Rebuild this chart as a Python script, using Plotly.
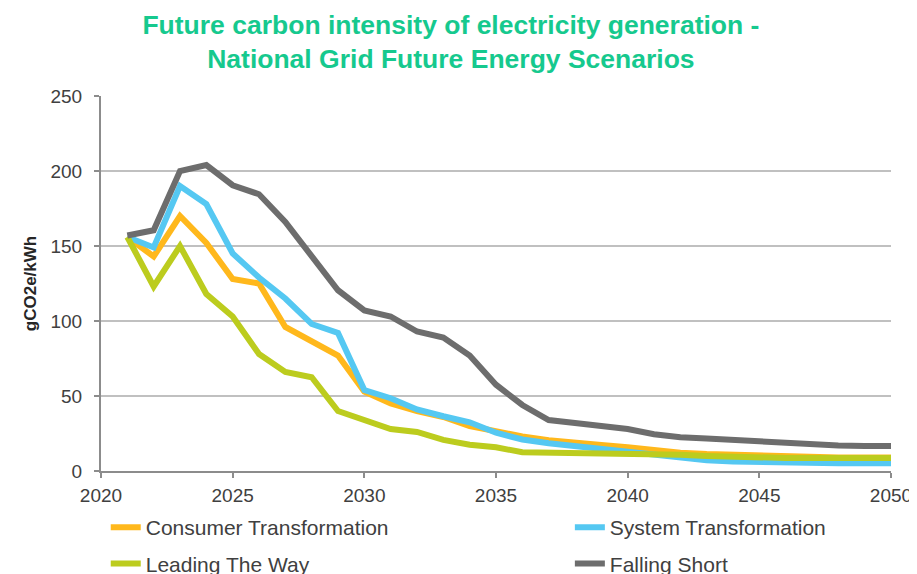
import plotly.graph_objects as go

years = list(range(2021, 2051))

consumer_transformation = [156, 143, 170, 152, 128, 125, 96, 87, 77, 53,
                           45, 40, 36, 30, 26, 23, 20.5, 18.5, 17.3, 15.8,
                           13.6, 12.2, 11.3, 10.7, 10, 9.5, 9.2, 9, 9, 9]
system_transformation = [156, 149, 190, 178, 145, 129, 115, 98, 92, 54,
                         48.5, 41, 36.5, 32.5, 25.5, 21, 18.5, 16.5, 15.3, 13.5,
                         11.5, 9, 7.2, 6.3, 5.8, 5.3, 5.1, 5.1, 5.1, 5.1]
leading_the_way = [156, 123, 150, 118, 103, 78, 66, 62.5, 40, 34.5,
                   28, 26, 20.7, 17.5, 15.8, 12.5, 12.3, 12.2, 11.8, 12,
                   11.5, 10.8, 10, 9.3, 8.9, 8.7, 8.7, 8.7, 8.7, 8.7]
falling_short = [157, 160.5, 200, 204, 190.5, 184.5, 166, 144, 120.5, 107,
                 103, 93, 89, 77, 57.5, 44, 34, 32, 30.5, 28,
                 24.5, 22.5, 21.6, 20.7, 19.8, 18.4, 17.3, 17, 16.7, 16.7]

# name, values, colour, which legend column
series = [
    ("Consumer Transformation", consumer_transformation, "#FFB81C", "legend"),
    ("System Transformation", system_transformation, "#55C8F2", "legend2"),
    ("Leading The Way", leading_the_way, "#BCCC1E", "legend"),
    ("Falling Short", falling_short, "#6D6D6D", "legend2"),
]

fig = go.Figure()
for name, vals, color, leg in series:
    fig.add_trace(go.Scatter(x=years, y=vals, name=name, mode="lines",
                             legend=leg, legendgroup=name,
                             line=dict(color=color, width=6)))

font = "Liberation Sans, Arial, sans-serif"
legend_style = dict(orientation="v", yanchor="top", y=-0.096, xanchor="left",
                    tracegroupgap=6, bgcolor="rgba(0,0,0,0)",
                    font=dict(size=21, color="#404040"))
# page body adds an 8px offset, so margins are trimmed by that much
fig.update_layout(
    width=917, height=574,
    margin=dict(l=93, r=34, t=88, b=111, autoexpand=False),
    plot_bgcolor="white", paper_bgcolor="white",
    font=dict(family=font, size=19, color="#404040"),
    title=dict(
        text="<b>Future carbon intensity of electricity generation -<br>National Grid Future Energy Scenarios</b>",
        x=0.483, xanchor="center", y=0.955, yanchor="top",
        font=dict(family=font, size=26.5, color="#16C98E"),
    ),
    legend=dict(legend_style, x=0.006),
    legend2=dict(legend_style, x=0.5935),
    showlegend=True,
)
fig.update_xaxes(
    range=[2020, 2050], tickvals=list(range(2020, 2051, 5)),
    showgrid=False, zeroline=False, automargin=False,
    showline=True, linecolor="#8C8C8C", linewidth=2,
    ticks="outside", ticklen=5, tickcolor="#8C8C8C", tickwidth=2,
    ticklabelstandoff=1,
)
fig.update_yaxes(
    range=[0, 250], dtick=50, automargin=False,
    showgrid=True, gridcolor="#C0C0C0", gridwidth=2, zeroline=False,
    showline=True, linecolor="#8C8C8C", linewidth=2,
    ticks="outside", ticklen=5, tickcolor="#8C8C8C", tickwidth=2,
    ticklabelstandoff=8,
    title=dict(text="<b>gCO2e/kWh</b>", font=dict(size=17, color="#262626"), standoff=10),
)

fig.write_html("out.html")
